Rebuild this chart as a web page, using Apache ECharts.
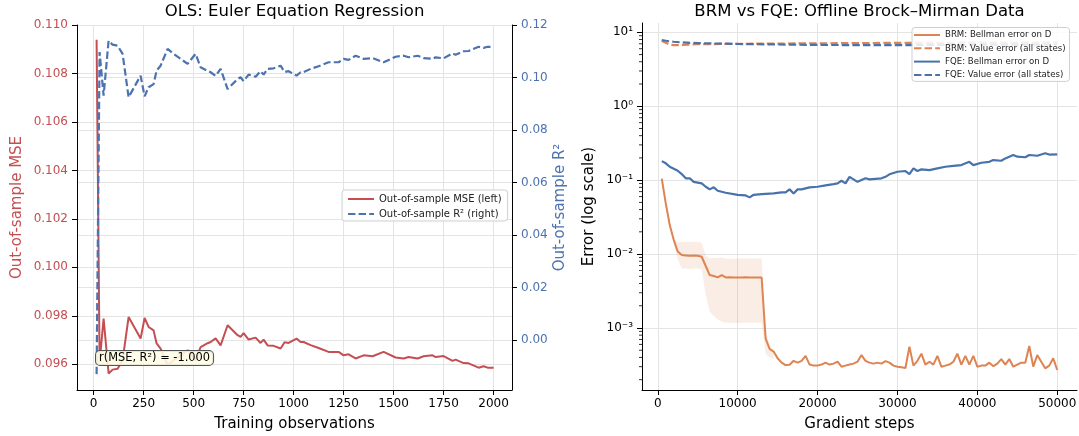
<!DOCTYPE html>
<html><head><meta charset="utf-8">
<script src="https://cdn.jsdelivr.net/npm/echarts@6/dist/echarts.min.js"></script>
<style>html,body{margin:0;padding:0;background:#fff}#c{width:1079px;height:436px}</style>
</head><body><div id="c"></div>
<script>
// ---------- Left panel: OLS ----------
const obs = [15, 30, 50, 75, 95, 120, 145, 175, 235, 255, 275, 300, 315, 335, 370, 400, 435, 470, 510, 535,
  570, 585, 610, 635, 670, 720, 735, 750, 775, 810, 835, 850, 870, 900, 935, 955, 975, 1015, 1035, 1050,
  1085, 1125, 1175, 1225, 1250, 1275, 1310, 1350, 1395, 1450, 1510, 1550, 1575, 1620, 1650, 1695, 1710, 1750, 1795, 1810,
  1850, 1875, 1925, 1950, 1970, 2000];
const mse = [0.10939, 0.09608, 0.09789, 0.09562, 0.09578, 0.09582, 0.09617, 0.09795, 0.09706, 0.09791,
  0.09754, 0.09740, 0.09686, 0.09665, 0.09596, 0.09617, 0.09637, 0.09658, 0.09617, 0.09671,
  0.09687, 0.09692, 0.09707, 0.09678, 0.09761, 0.09720, 0.09713, 0.09729, 0.09702, 0.09710,
  0.09688, 0.09702, 0.09678, 0.09676, 0.09665, 0.09691, 0.09688, 0.09706, 0.09692, 0.09692,
  0.09679, 0.09667, 0.09651, 0.09651, 0.09637, 0.09641, 0.09624, 0.09637, 0.09633, 0.09651,
  0.09628, 0.09624, 0.09630, 0.09624, 0.09633, 0.09637, 0.09630, 0.09634, 0.09614, 0.09619,
  0.09605, 0.09604, 0.09586, 0.09592, 0.09586, 0.09586];
const r2 = [-0.0130, 0.1097, 0.0931, 0.1140, 0.1125, 0.1121, 0.1090, 0.0925, 0.1007, 0.0928,
  0.0963, 0.0975, 0.1026, 0.1045, 0.1109, 0.1090, 0.1071, 0.1052, 0.1090, 0.1039,
  0.1025, 0.1020, 0.1006, 0.1033, 0.0956, 0.0994, 0.1001, 0.0986, 0.1011, 0.1003,
  0.1024, 0.1011, 0.1033, 0.1035, 0.1045, 0.1021, 0.1024, 0.1007, 0.1020, 0.1020,
  0.1033, 0.1043, 0.1058, 0.1058, 0.1071, 0.1067, 0.1083, 0.1071, 0.1074, 0.1058,
  0.1079, 0.1083, 0.1077, 0.1083, 0.1074, 0.1071, 0.1077, 0.1073, 0.1092, 0.1087,
  0.1100, 0.1101, 0.1117, 0.1113, 0.1117, 0.1117];
const corrText = 'r(MSE, R²) = -1.000';

// ---------- Right panel: BRM vs FQE ----------
const brmSteps = [500, 1000, 1500, 2000, 2500, 3000, 3500, 4000, 4500, 5000, 5500, 6000, 6500, 7000, 7500, 8000, 8500, 9000, 9500, 10000,
  10500, 11000, 11500, 12000, 12500, 13000, 13500, 14000, 14500, 15000, 15500, 16000, 16500, 17000, 17500, 18000, 18500, 19000, 19500, 20000,
  20500, 21000, 21500, 22000, 22500, 23000, 23500, 24000, 24500, 25000, 25500, 26000, 26500, 27000, 27500, 28000, 28500, 29000, 29500, 30000,
  30500, 31000, 31500, 32000, 32500, 33000, 33500, 34000, 34500, 35000, 35500, 36000, 36500, 37000, 37500, 38000, 38500, 39000, 39500, 40000,
  40500, 41000, 41500, 42000, 42500, 43000, 43500, 44000, 44500, 45000, 45500, 46000, 46500, 47000, 47500, 48000, 48500, 49000, 49500, 50000];
const brmBellman = [0.105, 0.0485, 0.0247, 0.0155, 0.0108, 0.0097, 0.0096, 0.0095, 0.0096, 0.0095, 0.0092, 0.0069, 0.0052, 0.00505, 0.00484, 0.0052, 0.00484, 0.00485, 0.00482, 0.00484,
  0.00483, 0.00485, 0.00484, 0.00483, 0.00484, 0.00482, 0.00072, 0.00052, 0.00048, 0.00039, 0.00034, 0.000315, 0.000318, 0.00036, 0.00034, 0.00036, 0.00042, 0.00032, 0.00031, 0.00031,
  0.00032, 0.00034, 0.00032, 0.00033, 0.00035, 0.00030, 0.00031, 0.00032, 0.00033, 0.00035, 0.00043, 0.00036, 0.00034, 0.00033, 0.00034, 0.00033, 0.000356, 0.00034, 0.00031, 0.00030,
  0.000295, 0.000288, 0.00056, 0.00031, 0.00036, 0.00045, 0.00032, 0.00035, 0.00032, 0.00042, 0.00030, 0.00031, 0.00032, 0.00035, 0.00045, 0.00032, 0.00042, 0.00032, 0.00042, 0.00030,
  0.00031, 0.00031, 0.00034, 0.000305, 0.00033, 0.00038, 0.00032, 0.00038, 0.00030, 0.00032, 0.00034, 0.00034, 0.00057, 0.00030, 0.00043, 0.00035, 0.000285, 0.00031, 0.00039, 0.00027];
const brmBandSteps = [2000, 2500, 3000, 3500, 4000, 4500, 5000, 5500, 6000, 6500, 7000, 7500, 8000, 8500, 9000, 10000, 11000, 12000, 13000, 13500, 14000, 14500];
const brmBandLow = [0.0145, 0.0085, 0.0064, 0.0064, 0.0063, 0.0064, 0.0064, 0.0062, 0.0028, 0.00166, 0.00145, 0.0013, 0.00122, 0.00118, 0.00118, 0.00117, 0.00118, 0.00118, 0.00118, 0.00045, 0.00040, 0.00038];
const brmBandHigh = [0.0165, 0.0145, 0.0147, 0.0147, 0.0147, 0.0147, 0.0147, 0.0142, 0.0095, 0.0087, 0.0089, 0.0088, 0.0090, 0.0087, 0.0086, 0.0087, 0.0087, 0.0087, 0.0087, 0.0009, 0.0006, 0.0005];
const fqeSteps = [500, 1000, 1500, 2500, 3000, 3500, 4000, 4500, 5500, 6000, 6500, 7000, 7500, 8500, 10000, 11000, 11500, 12000, 13000, 14500,
  15500, 16000, 16500, 17000, 17500, 18000, 19000, 20000, 21000, 22000, 22500, 23000, 23500, 24000, 25000, 26000, 26500, 28000, 28500, 29000,
  30000, 31000, 31500, 32000, 32500, 33000, 34000, 35000, 36000, 37000, 38000, 39000, 39500, 40500, 41500, 42000, 43000, 43500, 44500, 45000,
  46000, 46500, 47500, 48500, 49000, 50000];
const fqeBellman = [0.181, 0.169, 0.152, 0.134, 0.121, 0.106, 0.106, 0.095, 0.0906, 0.0815, 0.0751, 0.080, 0.0719, 0.0676, 0.0634, 0.0622, 0.0585, 0.0634, 0.0649, 0.0662,
  0.0684, 0.0684, 0.0751, 0.0662, 0.0751, 0.0751, 0.080, 0.0815, 0.0851, 0.0885, 0.0906, 0.0982, 0.0906, 0.111, 0.095, 0.106, 0.1026, 0.106, 0.111, 0.120,
  0.130, 0.133, 0.121, 0.1445, 0.133, 0.140, 0.137, 0.1445, 0.152, 0.156, 0.160, 0.177, 0.160, 0.172, 0.177, 0.187, 0.183, 0.197, 0.219, 0.208,
  0.204, 0.219, 0.214, 0.231, 0.222, 0.223];
const valueSteps = [500, 1000, 1500, 2000, 3000, 5000, 10000, 15000, 20000, 25000, 30000, 35000, 40000, 45000, 50000];
const brmValue = [7.7, 7.2, 6.8, 6.7, 6.75, 6.9, 7.0, 7.05, 7.1, 7.15, 7.2, 7.2, 7.25, 7.25, 7.3];
const fqeValue = [7.85, 7.7, 7.55, 7.45, 7.3, 7.15, 6.95, 6.85, 6.75, 6.72, 6.72, 6.75, 6.8, 6.82, 6.85];

const leftLegend = ['Out-of-sample MSE (left)', 'Out-of-sample R² (right)'];
const rightLegend = ['BRM: Bellman error on D', 'BRM: Value error (all states)', 'FQE: Bellman error on D', 'FQE: Value error (all states)'];

// ---------- styling ----------
const FONT = 'DejaVu Sans';
const RED = '#c44e52', BLUE = '#4c72b0', ORANGE = '#dd8452', BLUE2 = '#4872aa';
const GRIDC = '#e4e4e4';
const DASH = [7.4, 3.2];
const SUP = {'-': '⁻', '0': '⁰', '1': '¹', '2': '²', '3': '³', '4': '⁴', '5': '⁵', '6': '⁶', '7': '⁷', '8': '⁸', '9': '⁹'};
const supText = n => String(n).split('').map(c => SUP[c]).join('');
const zip = (xs, ys) => xs.map((x, i) => [x, ys[i]]);
const onStep = (v, st) => Math.abs(v / st - Math.round(v / st)) < 1e-6;

const RX_MIN = -1975, RX_MAX = 52475, RY_MIN = 0.000145, RY_MAX = 13.37;
// minor log-tick positions (2..9 x 10^n) inside the right axis range
const minorLogTicks = [];
for (let n = -4; n <= 1; n++) for (let k = 2; k <= 9; k++) {
  const v = k * Math.pow(10, n);
  if (v > RY_MIN && v < RY_MAX) minorLogTicks.push(v);
}

const axisLineBlack = {show: true, onZero: false, lineStyle: {color: '#000', width: 1}};
const tickBlack = {show: true, length: 5, lineStyle: {color: '#000', width: 1}};
const split = (minL, maxL) => ({show: true, showMinLine: minL, showMaxLine: maxL, lineStyle: {color: GRIDC, width: 1}});
const titleStyle = {fontFamily: FONT, fontSize: 16.5, fontWeight: 'normal', color: '#000'};

const chart = echarts.init(document.getElementById('c'), null, {renderer: 'canvas'});
const option = {
  animation: false,
  backgroundColor: '#fff',
  textStyle: {fontFamily: FONT},
  title: [
    {text: 'OLS: Euler Equation Regression', left: 294.5, top: 3, padding: 0, textAlign: 'center', textStyle: titleStyle},
    {text: 'BRM vs FQE: Offline Brock–Mirman Data', left: 859.5, top: 3, padding: 0, textAlign: 'center', textStyle: titleStyle}
  ],
  grid: [
    {left: 77, top: 25, width: 435, height: 365, outerBoundsMode: 'none'},
    {left: 642, top: 23, width: 435, height: 367, outerBoundsMode: 'none'}
  ],
  xAxis: [
    {type: 'value', gridIndex: 0, min: -83, max: 2092, minInterval: 250, maxInterval: 250,
     name: 'Training observations', nameLocation: 'middle', nameGap: 27,
     nameTextStyle: {fontFamily: FONT, fontSize: 15, color: '#000'},
     axisLine: axisLineBlack, axisTick: tickBlack,
     axisLabel: {fontFamily: FONT, fontSize: 12, color: '#000', margin: 8, showMinLabel: false, showMaxLabel: false,
       formatter: v => onStep(v, 250) ? String(Math.round(v)) : ''},
     splitLine: split(false, false)},
    {type: 'value', gridIndex: 1, min: RX_MIN, max: RX_MAX, minInterval: 10000, maxInterval: 10000,
     name: 'Gradient steps', nameLocation: 'middle', nameGap: 27,
     nameTextStyle: {fontFamily: FONT, fontSize: 15, color: '#000'},
     axisLine: axisLineBlack, axisTick: tickBlack,
     axisLabel: {fontFamily: FONT, fontSize: 12, color: '#000', margin: 8, showMinLabel: false, showMaxLabel: false,
       formatter: v => onStep(v, 10000) ? String(Math.round(v)) : ''},
     splitLine: split(false, false)}
  ],
  yAxis: [
    {type: 'value', gridIndex: 0, position: 'left', min: 0.094939, max: 0.110, minInterval: 0.002, maxInterval: 0.002,
     name: 'Out-of-sample MSE', nameLocation: 'middle', nameGap: 52,
     nameTextStyle: {fontFamily: FONT, fontSize: 15, color: RED},
     axisLine: axisLineBlack, axisTick: tickBlack,
     axisLabel: {fontFamily: FONT, fontSize: 12, color: RED, margin: 9, showMinLabel: false,
       formatter: v => onStep(v, 0.002) ? v.toFixed(3) : ''},
     splitLine: split(false, true)},
    {type: 'value', gridIndex: 0, position: 'right', min: -0.01905, max: 0.12, minInterval: 0.02, maxInterval: 0.02,
     name: 'Out-of-sample R²', nameLocation: 'middle', nameGap: 41, nameRotate: 90,
     nameTextStyle: {fontFamily: FONT, fontSize: 15, color: BLUE},
     axisLine: axisLineBlack, axisTick: tickBlack,
     axisLabel: {fontFamily: FONT, fontSize: 12, color: BLUE, margin: 9, showMinLabel: false,
       formatter: v => onStep(v, 0.02) ? v.toFixed(2) : ''},
     splitLine: split(false, true)},
    {type: 'log', logBase: 10, gridIndex: 1, position: 'left', min: RY_MIN, max: RY_MAX,
     name: 'Error (log scale)', nameLocation: 'middle', nameGap: 45,
     nameTextStyle: {fontFamily: FONT, fontSize: 15, color: '#000'},
     axisLine: axisLineBlack, axisTick: tickBlack,
     axisLabel: {fontFamily: FONT, fontSize: 12, color: '#000', margin: 9, showMinLabel: false, showMaxLabel: false,
       formatter: v => { const l = Math.log10(v); const e = Math.round(l); return Math.abs(l - e) < 1e-6 ? '10' + supText(e) : ''; }},
     splitLine: split(false, false)}
  ],
  legend: [
    {data: leftLegend, orient: 'vertical', left: 342, top: 190, itemWidth: 26, itemHeight: 10, itemGap: 5,
     padding: [4, 6, 2, 5], backgroundColor: 'rgba(255,255,255,0.85)', borderColor: '#cfcfcf', borderWidth: 1, borderRadius: 3,
     textStyle: {fontFamily: FONT, fontSize: 10, color: '#222'}, itemStyle: {opacity: 0}, selectedMode: false},
    {data: rightLegend, orient: 'vertical', left: 912, top: 27.5, itemWidth: 26, itemHeight: 9, itemGap: 4.3,
     padding: [3, 4, 2, 1], backgroundColor: 'rgba(255,255,255,0.85)', borderColor: '#cfcfcf', borderWidth: 1, borderRadius: 3,
     textStyle: {fontFamily: FONT, fontSize: 8.6, color: '#222'}, itemStyle: {opacity: 0}, selectedMode: false}
  ],
  graphic: [
    {type: 'text', left: 95, top: 350, z: 100,
     style: {text: corrText, fontFamily: FONT, fontSize: 11.4, fill: '#000',
       backgroundColor: 'rgba(255,253,228,0.88)', borderColor: '#555', borderWidth: 1, borderRadius: 4, padding: [2, 3, 1, 3]}}
  ],
  series: [
    {name: leftLegend[0], type: 'line', xAxisIndex: 0, yAxisIndex: 0, data: zip(obs, mse), symbol: 'none',
     color: RED, lineStyle: {color: RED, width: 2}, z: 2},
    {name: leftLegend[1], type: 'line', xAxisIndex: 0, yAxisIndex: 1, data: zip(obs, r2), symbol: 'none',
     color: BLUE, lineStyle: {color: BLUE, width: 2.2, type: DASH}, z: 3},
    {name: 'minorTicks', type: 'custom', xAxisIndex: 1, yAxisIndex: 2, silent: true, clip: false, z: 5,
     data: minorLogTicks.map(v => [RX_MIN, v]),
     renderItem: (params, api) => {
       const p = api.coord([api.value(0), api.value(1)]);
       return {type: 'line', shape: {x1: p[0] - 3, y1: p[1], x2: p[0], y2: p[1]}, style: {stroke: '#000', lineWidth: 0.8}};
     }},
    {name: 'brmBand', type: 'custom', xAxisIndex: 1, yAxisIndex: 2, silent: true, z: 1,
     data: [[brmBandSteps[0], brmBandLow[0]]],
     renderItem: (params, api) => {
       const pts = [];
       for (let i = 0; i < brmBandSteps.length; i++) pts.push(api.coord([brmBandSteps[i], brmBandHigh[i]]));
       for (let i = brmBandSteps.length - 1; i >= 0; i--) pts.push(api.coord([brmBandSteps[i], brmBandLow[i]]));
       return {type: 'polygon', shape: {points: pts}, style: {fill: 'rgba(221,132,82,0.15)'}};
     }},
    {name: rightLegend[0], type: 'line', xAxisIndex: 1, yAxisIndex: 2, data: zip(brmSteps, brmBellman), symbol: 'none',
     color: ORANGE, lineStyle: {color: ORANGE, width: 2}, z: 3},
    {name: rightLegend[1], type: 'line', xAxisIndex: 1, yAxisIndex: 2, data: zip(valueSteps, brmValue), symbol: 'none',
     color: ORANGE, lineStyle: {color: ORANGE, width: 2.2, type: DASH}, z: 3},
    {name: rightLegend[2], type: 'line', xAxisIndex: 1, yAxisIndex: 2, data: zip(fqeSteps, fqeBellman), symbol: 'none',
     color: BLUE2, lineStyle: {color: BLUE2, width: 2.2}, z: 3},
    {name: rightLegend[3], type: 'line', xAxisIndex: 1, yAxisIndex: 2, data: zip(valueSteps, fqeValue), symbol: 'none',
     color: BLUE2, lineStyle: {color: BLUE2, width: 2.2, type: DASH}, z: 3}
  ]
};
chart.setOption(option);
</script>
</body></html>
